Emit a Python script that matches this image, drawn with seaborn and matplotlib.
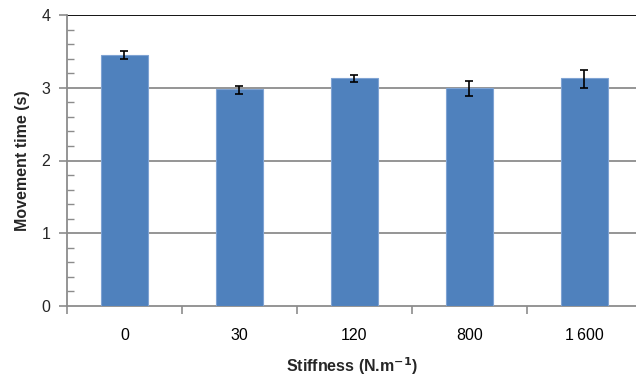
import matplotlib
matplotlib.use("Agg")
import matplotlib.pyplot as plt
import seaborn as sns
import pandas as pd
from matplotlib.ticker import MultipleLocator, FixedLocator

categories = ["0", "30", "120", "800", "1\u2009600"]
means = [3.45, 2.98, 3.13, 3.00, 3.13]
errors = [0.05, 0.05, 0.05, 0.105, 0.12]
err_centers = [3.45, 2.97, 3.13, 2.99, 3.12]

sns.set_theme(style="white")
plt.rcParams['font.family'] = ['Liberation Sans', 'DejaVu Sans']

df = pd.DataFrame({"Stiffness": categories, "Time": means})

fig = plt.figure(figsize=(6.36, 3.79), dpi=100)
ax = fig.add_axes([67/636, 1-306/379, 1-67/636, (306-15)/379])

sns.barplot(data=df, x="Stiffness", y="Time", order=categories, color="#4F81BD",
            width=0.41, errorbar=None, ax=ax, edgecolor="#7FA3D3", linewidth=0.8,
            saturation=1, zorder=3)
ax.errorbar(range(len(categories)), err_centers, yerr=errors, fmt="none",
            ecolor="black", elinewidth=1.2, capsize=3, capthick=1.2, zorder=4)

ax.set_ylim(0, 4)
ax.set_xlim(-0.5, 4.45)
ax.yaxis.set_major_locator(MultipleLocator(1))
ax.yaxis.set_minor_locator(MultipleLocator(0.2))
ax.set_yticks([0, 1, 2, 3, 4])
for y in [1, 2, 3]:
    ax.axhline(y, color="#8C8C8C", lw=1.3, zorder=1)
ax.axhline(4, color="black", lw=1.3, zorder=1)

ax.xaxis.set_minor_locator(FixedLocator([-0.5, 0.5, 1.5, 2.5, 3.5, 4.5]))
ax.tick_params(axis="x", which="major", length=0, pad=16, labelsize=11.5, colors="black")
ax.tick_params(axis="x", which="minor", length=6, width=1.2, color="#8C8C8C", direction="out", bottom=True)
ax.tick_params(axis="y", which="major", length=6, width=1.2, color="#8C8C8C", direction="out", left=True, labelsize=11.5, pad=6)
ax.tick_params(axis="y", which="minor", length=5, width=1, color="#8C8C8C", direction="in", left=True)

for s in ["top", "right"]:
    ax.spines[s].set_visible(False)
for s in ["left", "bottom"]:
    ax.spines[s].set_color("#8C8C8C")
    ax.spines[s].set_linewidth(1.3)

ax.set_xlabel("Stiffness (N.m$^{\\mathbf{-1}}$)", fontsize=11.5, fontweight="bold", labelpad=9)
ax.set_ylabel("Movement time (s)", fontsize=11.5, fontweight="bold", labelpad=8)

fig.savefig("out.png", dpi=100)
